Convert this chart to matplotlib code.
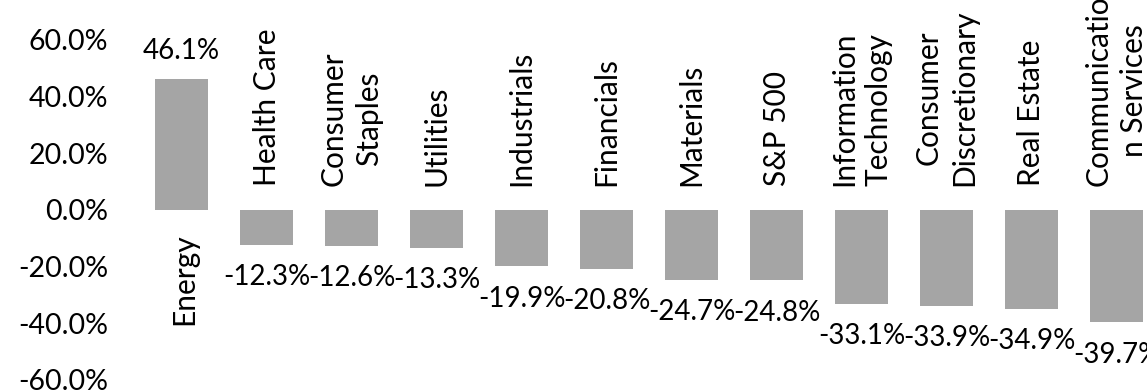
import numpy as np
import matplotlib.pyplot as plt

plt.rcParams['font.family'] = ['Lato', 'DejaVu Sans']

# sector returns (%)
sectors = ['Energy', 'Health Care', 'Consumer\nStaples', 'Utilities', 'Industrials',
           'Financials', 'Materials', 'S&P 500', 'Information\nTechnology',
           'Consumer\nDiscretionary', 'Real Estate', 'Communicatio\nn Services']
returns = [46.1, -12.3, -12.6, -13.3, -19.9, -20.8, -24.7, -24.8, -33.1, -33.9, -34.9, -39.7]
yticks = [-60, -40, -20, 0, 20, 40, 60]

fig = plt.figure(figsize=(11.47, 3.92), dpi=100)
# axes runs past the right edge, like the cropped original
ax = fig.add_axes([139 / 1147, 12 / 392, 1020 / 1147, 340 / 392])

x = np.arange(len(sectors))
ax.bar(x, returns, width=0.62, color='#A5A5A5')

fs = 20
fs_cat = 21.5
for xi, v, name in zip(x, returns, sectors):
    if v >= 0:
        ax.annotate(f'{v:.1f}%', (xi, v), xytext=(0, 11), textcoords='offset points',
                    ha='center', va='bottom', fontsize=fs, annotation_clip=False)
        ax.annotate(name, (xi, 0), xytext=(2, -17), textcoords='offset points',
                    ha='center', va='top', rotation=90, fontsize=fs_cat,
                    multialignment='center', annotation_clip=False)
    else:
        ax.annotate(f'{v:.1f}%', (xi, v), xytext=(0, -14), textcoords='offset points',
                    ha='center', va='top', fontsize=fs, annotation_clip=False)
        ax.annotate(name, (xi, 0), xytext=(0, 17), textcoords='offset points',
                    ha='center', va='bottom', rotation=90, fontsize=fs_cat,
                    multialignment='center', linespacing=1.3,
                    annotation_clip=False)

ax.set_xlim(-0.5, len(sectors) - 0.5)
ax.set_ylim(-60, 60)
ax.set_yticks(yticks)
ax.set_yticklabels([f'{t:.1f}%' for t in yticks], fontsize=fs + 0.5)
ax.set_xticks([])
ax.tick_params(axis='y', length=0, pad=22)
for s in ax.spines.values():
    s.set_visible(False)

fig.savefig('out.png', dpi=100)
